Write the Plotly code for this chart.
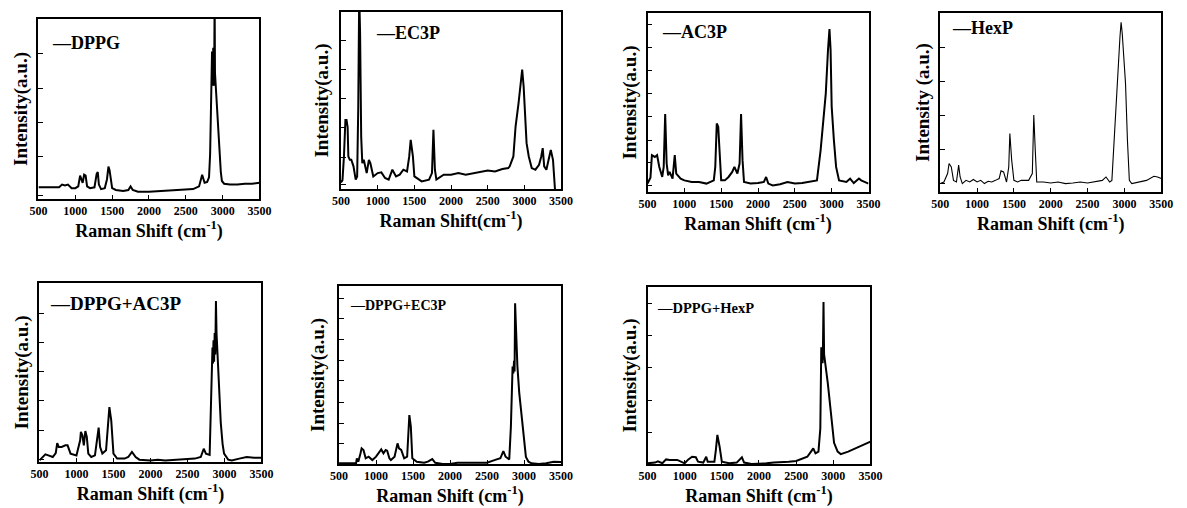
import plotly.graph_objects as go

# ---------------- data (Raman shift cm-1, relative intensity %) ----------------
dppg = [(500,6.5),(600,6.5),(700,6.3),(780,6.5),(820,8),(860,7.5),(900,8),(950,6),(1000,6),
        (1040,7),(1065,13),(1085,10),(1100,9),(1120,13.5),(1140,13),(1160,7),(1200,6),(1260,6.5),
        (1290,14),(1305,15),(1320,8),(1350,5.5),(1400,6),(1430,11),(1450,18),(1465,16),(1480,10),
        (1500,6),(1550,5),(1650,4.5),(1720,5),(1750,7),(1780,5),(1850,4),(2000,4),(2200,4.5),
        (2400,5),(2600,5.5),(2680,7),(2722,13.5),(2740,11),(2755,9),(2790,9.5),(2815,12),(2830,25),
        (2840,55),(2848,80),(2852,66),(2856,82),(2860,64),(2864,83),(2868,63),(2872,84),(2876,64),
        (2880,83),(2884,63),(2888,82),(2891,110),(2896,70),(2910,60),(2930,49),(2953,27),(2975,15),
        (2990,10),(3020,8.5),(3100,8),(3200,8),(3300,8.5),(3400,8.5),(3500,9)]

ec3p = [(500,3.7),(520,5),(540,18.4),(560,39),(575,39),(590,35),(600,18.4),(620,16.5),(640,16.5),
        (670,12.8),(700,5.3),(720,7.1),(735,46.5),(748,110),(760,87.8),(775,29.6),(790,14.6),
        (810,16.5),(850,9),(880,16.5),(900,14.6),(940,7.1),(1000,9),(1050,9.4),(1100,6.2),
        (1150,5.3),(1200,10.9),(1250,7.1),(1300,8.1),(1350,10.9),(1400,9.9),(1430,18.4),
        (1450,27.8),(1480,18.4),(1500,7.1),(1600,4.3),(1700,5.3),(1740,9),(1760,33.4),(1780,10.9),
        (1800,5.3),(1900,8.1),(2000,8.1),(2100,9),(2200,8.1),(2300,9),(2400,9.9),(2500,10.5),
        (2600,9.9),(2700,11.3),(2780,11.8),(2800,12.8),(2850,18.4),(2880,35.3),(2920,48.4),
        (2950,61.5),(2970,67.5),(2990,57.8),(3010,37.1),(3030,25.9),(3060,18.4),(3100,11.8),
        (3150,10.9),(3200,13.7),(3230,18.4),(3250,23.1),(3270,12.8),(3300,10.9),(3330,16.5),
        (3360,22.1),(3390,16.5),(3410,5.3),(3425,-5)]

ac3p = [(500,4.7),(540,8),(560,20.6),(600,19.6),(630,20.6),(660,14),(700,8.4),(720,14),(740,43.6),
        (760,15.9),(780,9.3),(800,11.2),(840,7.5),(870,20.6),(890,10.3),(950,7.5),(1000,6.5),
        (1100,5.6),(1200,5.6),(1300,4.7),(1400,6.5),(1420,14),(1440,38.3),(1460,36.4),(1480,21.5),
        (1500,6.5),(1550,6.5),(1600,8.4),(1650,11.2),(1680,14),(1720,10.3),(1750,15.9),(1770,43.6),
        (1790,17.8),(1810,5.6),(1900,4.7),(2000,5),(2080,5.6),(2110,8.4),(2140,4.7),(2200,3.7),
        (2300,4.3),(2400,5.6),(2500,4.7),(2600,5),(2700,5.6),(2800,6.5),(2850,23.4),(2880,36.4),
        (2920,55.1),(2950,79.4),(2970,91),(2985,79.4),(3000,47.7),(3030,29),(3060,14),(3100,6.5),
        (3200,5.6),(3250,7.5),(3300,5),(3370,7.5),(3400,6.5),(3500,4.7)]

hexp = [(500,4.7),(550,5.6),(600,10.3),(620,15.9),(650,14),(680,6.5),(720,5.6),(750,15),(770,8.4),
        (800,4.7),(850,6.5),(900,5.6),(950,7),(1000,5.6),(1050,6.5),(1100,4.7),(1150,6),(1200,5.6),
        (1250,6.5),(1300,7.5),(1325,11.8),(1360,11.2),(1400,5.6),(1430,14),(1445,32.7),(1470,17.8),
        (1500,6.5),(1550,5.6),(1600,6.5),(1700,6.5),(1750,10.3),(1770,43),(1790,23.4),(1810,5.6),
        (1900,5.6),(2000,5),(2100,5.6),(2200,4.7),(2300,5),(2400,5.6),(2500,5),(2600,5.6),
        (2700,6.5),(2750,8.4),(2800,5.6),(2830,6.5),(2850,19.6),(2885,45.8),(2912,66.4),
        (2940,86.9),(2955,94.8),(2970,88.8),(3015,60.7),(3041,29),(3067,6.5),(3100,4.7),
        (3200,5.6),(3300,6.5),(3400,8.8),(3450,8.4),(3500,7.5)]

dppg_ac3p = [(500,0.9),(550,2.8),(580,4.3),(620,3.7),(680,2.8),(720,5),(740,10.6),(760,8.4),
             (800,8.4),(850,9.3),(880,9.3),(920,4.7),(1000,3.7),(1050,12.1),(1060,16.8),(1080,14.9),
             (1100,9.3),(1120,17.3),(1140,14),(1160,4.7),(1200,2.8),(1250,3.7),(1280,14),(1300,19.2),
             (1320,8.4),(1350,4.7),(1400,6.5),(1430,25.1),(1445,30.7),(1470,23.3),(1500,4.7),
             (1550,1.9),(1650,1.9),(1700,2.8),(1750,5.6),(1800,2.8),(1850,1.3),(2000,0.9),(2100,1.3),
             (2200,0.9),(2300,1.3),(2400,1.3),(2500,1.7),(2600,1.9),(2680,2.8),(2720,7.4),(2750,4.7),
             (2800,4),(2815,25),(2830,58),(2838,64),(2845,55),(2852,68),(2860,56),(2868,72),(2876,60),
             (2885,90),(2893,72),(2910,55),(2925,38),(2950,22),(2975,10),(2995,4.7),(3050,1.3),
             (3100,0.9),(3200,1.9),(3300,2.8),(3400,2.4),(3500,2.4)]

dppg_ec3p = [(500,0.4),(600,0.4),(700,0.4),(730,0.4),(740,3.2),(760,1.3),(790,6),(805,8.8),(830,7.9),
             (860,3.2),(900,4.1),(950,2.2),(1000,4.1),(1050,6.9),(1070,8.2),(1100,6),(1130,7.9),
             (1150,7.5),(1180,3.2),(1200,2.2),(1250,4.1),(1290,11.6),(1310,8.8),(1340,7.9),(1380,3.2),
             (1420,4.1),(1440,24.7),(1450,27.5),(1470,21),(1490,3.2),(1550,1.3),(1650,0.7),(1700,1.3),
             (1760,2.8),(1800,0.7),(1900,0),(2000,0),(2100,0.7),(2200,0.7),(2300,0.7),(2400,0.4),
             (2500,0.7),(2600,2.2),(2680,3.2),(2720,7.3),(2750,4.1),(2800,2.6),(2822,21),(2845,54.7),
             (2855,50.9),(2865,58),(2872,52),(2879,90.3),(2888,77.2),(2900,70),(2910,55),(2935,40),
             (2955,32),(2981,22),(3005,10),(3025,4),(3060,1.3),(3100,0.4),(3200,0),(3300,0.4),
             (3400,1.3),(3500,1.1)]

dppg_hexp = [(500,0.4),(600,0.8),(640,1.5),(700,0.4),(750,2.6),(800,2.3),(900,2.3),(950,1.3),
             (1000,0.4),(1050,2.6),(1100,4.1),(1150,3.8),(1180,1.3),(1250,0.8),(1290,4.1),(1310,1.3),
             (1400,1.3),(1420,8),(1440,16.4),(1470,9.8),(1500,1.3),(1600,0.4),(1700,0.8),(1770,3.8),
             (1800,0.8),(1900,0),(2000,0),(2100,0.4),(2200,0.8),(2300,0.9),(2400,1.3),(2500,1.7),
             (2600,3.2),(2650,4.1),(2700,7),(2730,8.8),(2760,6),(2800,7),(2825,20),(2838,66),(2848,62),
             (2856,57),(2862,70),(2868,91.5),(2876,62),(2890,58),(2926,45.5),(2950,36),(2983,21),
             (3010,12),(3058,7),(3100,5.6),(3200,7),(3300,8.8),(3400,10.7),(3500,12.6)]

names = ["DPPG", "EC3P", "AC3P", "HexP", "DPPG+AC3P", "DPPG+EC3P", "DPPG+HexP"]
spectra = [dppg, ec3p, ac3p, hexp, dppg_ac3p, dppg_ec3p, dppg_hexp]

x_tick_vals = [500, 1000, 1500, 2000, 2500, 3000, 3500]
y_tick_vals = [
    [2, 23.5, 42.5, 61.5, 81],
    [2.4, 18, 35, 51, 67.7, 84],
    [3.6, 16.4, 29, 42, 55.1, 67.9, 80.7, 93.5],
    [4.7, 23.7, 42.6, 61.7, 80.7],
    [1.3, 17.7, 34.4, 50.6, 67, 83.2],
    [0, 11.6, 22.8, 34.6, 46.8, 58.4, 70, 81.5, 93],
    [0, 17.9, 36.1, 54.3, 72.7, 90.6],
]
x_titles = ["Raman Shift (cm<sup>-1</sup>)", "Raman Shift(cm<sup>-1</sup>)", "Raman Shift (cm<sup>-1</sup>)",
            "Raman Shift (cm<sup>-1</sup>)", "Raman Shift (cm<sup>-1</sup>)", "Raman Shift (cm<sup>-1</sup>)",
            "Raman Shift (cm<sup>-1</sup>)"]
y_titles = ["Intensity(a.u.)", "Intensity(a.u.)", "Intensity(a.u.)", "Intensity (a.u.)",
            "Intensity(a.u.)", "Intensity(a.u.)", "Intensity(a.u.)"]

# ---------------- layout / styling ----------------
W, H = 1187, 508
boxes = [((30, 255), (19, 199)), ((338, 562), (12, 189)), ((650, 875), (13, 192)),
         ((948, 1173), (13, 192)), ((31, 257), (283, 462)), ((336, 562), (286, 464)),
         ((650, 877), (287, 464))]
line_widths = [2, 2, 2, 1.1, 2, 2, 2]
label_pos = [(42, 43, 18), (372, 33, 18), (663, 32, 18), (958, 28, 18),
             (40, 303, 19), (345, 305, 14), (658, 308, 14.5)]
y_standoff = [4, 6, 4, 4, 4, 8, 4]

FONT = "Liberation Serif"
fig = go.Figure()
layout = dict(width=W, height=H, margin=dict(l=0, r=0, t=0, b=0),
              paper_bgcolor="white", plot_bgcolor="white", showlegend=False,
              annotations=[])

for i, (name, pts) in enumerate(zip(names, spectra)):
    k = "" if i == 0 else str(i + 1)
    xs = [p[0] for p in pts]
    ys = [p[1] for p in pts]
    fig.add_trace(go.Scatter(x=xs, y=ys, mode="lines", name=name,
                             line=dict(color="black", width=line_widths[i]),
                             xaxis="x" + k, yaxis="y" + k))
    (x0, x1), (y0, y1) = boxes[i]
    common = dict(showline=True, mirror=True, linecolor="black", linewidth=1.6,
                  showgrid=False, zeroline=False, ticks="inside", tickcolor="black")
    layout["xaxis" + k] = dict(domain=[x0 / W, x1 / W], anchor="y" + k, range=[500, 3500],
                               tickvals=x_tick_vals, ticklen=4,
                               tickfont=dict(family=FONT, size=12, color="black", weight="bold"),
                               title=dict(text=x_titles[i], standoff=4,
                                          font=dict(family=FONT, size=18, color="black", weight="bold")),
                               **common)
    layout["yaxis" + k] = dict(domain=[1 - y1 / H, 1 - y0 / H], anchor="x" + k, range=[0, 100],
                               tickvals=y_tick_vals[i], showticklabels=False, ticklen=5,
                               title=dict(text=y_titles[i], standoff=y_standoff[i],
                                          font=dict(family=FONT, size=19, color="black", weight="bold")),
                               **common)
    lx, ly, ls = label_pos[i]
    layout["annotations"].append(dict(text="\u2014" + name, x=lx / W, y=1 - ly / H,
                                      xref="paper", yref="paper", xanchor="left", yanchor="middle",
                                      showarrow=False,
                                      font=dict(family=FONT, size=ls, color="black", weight="bold")))

fig.update_layout(**layout)
fig.write_html("out.html")
